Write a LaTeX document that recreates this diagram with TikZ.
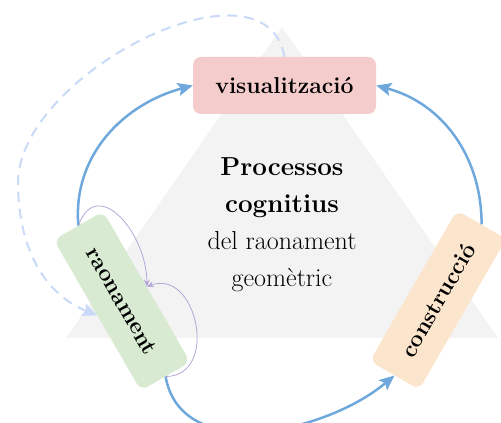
\documentclass[tikz,border=0pt]{standalone}
\usetikzlibrary{positioning, arrows.meta}

\definecolor{trigray}{HTML}{F3F3F3}
\definecolor{vizpink}{HTML}{F4CCCC}
\definecolor{reasgreen}{HTML}{D9EAD3}
\definecolor{consorange}{HTML}{FCE5CD}
\definecolor{flowblue}{HTML}{6FA8DC}
\definecolor{dashblue}{HTML}{C9DAF8}
\definecolor{loopviolet}{HTML}{B4A7D6}

\tikzset{
  procbox/.style={rounded corners=8pt, minimum width=174pt, minimum height=57pt, inner sep=0pt,
    font=\fontsize{23}{27}\selectfont\bfseries},
  flow/.style={line width=2.5pt, draw=flowblue, -{Stealth[length=15pt, width=13pt, inset=3pt, fill=flowblue]}},
  backflow/.style={line width=2pt, draw=dashblue, dash pattern=on 10pt off 7pt,
    -{Stealth[length=15pt, width=13pt, inset=3pt, fill=dashblue]}},
  selfloop/.style={line width=0.8pt, draw=loopviolet, -{Stealth[length=7pt, width=6pt]}}
}

\begin{document}
\begin{tikzpicture}[x=1pt, y=1pt]
\useasboundingbox (0,0) rectangle (501,423);

% Draw background triangle
\fill[trigray] (66,85) -- (282,396) -- (498,85) -- cycle;

% Draw central label
\node[align=center, font=\fontsize{26}{37}\selectfont] (title) at (282,198)
  {\textbf{Processos}\\ \textbf{cognitius}\\ del raonament\\ geomètric};

% Draw process boxes
\node[procbox, fill=vizpink, minimum width=183pt] (viz) at (284.5,337.5) {visualització};
\node[procbox, fill=reasgreen, rotate=-60] (reas) at (122,122) {raonament};
\node[procbox, fill=consorange, rotate=60] (cons) at (438,123) {construcció};

% Draw main cycle
\draw[flow] (reas.west) to[out=95, in=195] (viz.west);
\draw[flow] (cons.east) to[out=90, in=-15] (viz.east);
\draw[flow] (reas.east) to[out=-80, in=-140] (cons.west);

% Draw feedback and self loops
\coordinate (farleft) at (18,240);
\draw[backflow] (viz.north) to[out=100, in=90, looseness=0.95] (farleft)
  to[out=-90, in=158] (reas.south);
\draw[selfloop] (reas.west) to[out=70, in=90, looseness=1.5] (reas.north);
\draw[selfloop] (reas.east) to[out=0, in=20, looseness=1.5] (reas.north);

\end{tikzpicture}
\end{document}
